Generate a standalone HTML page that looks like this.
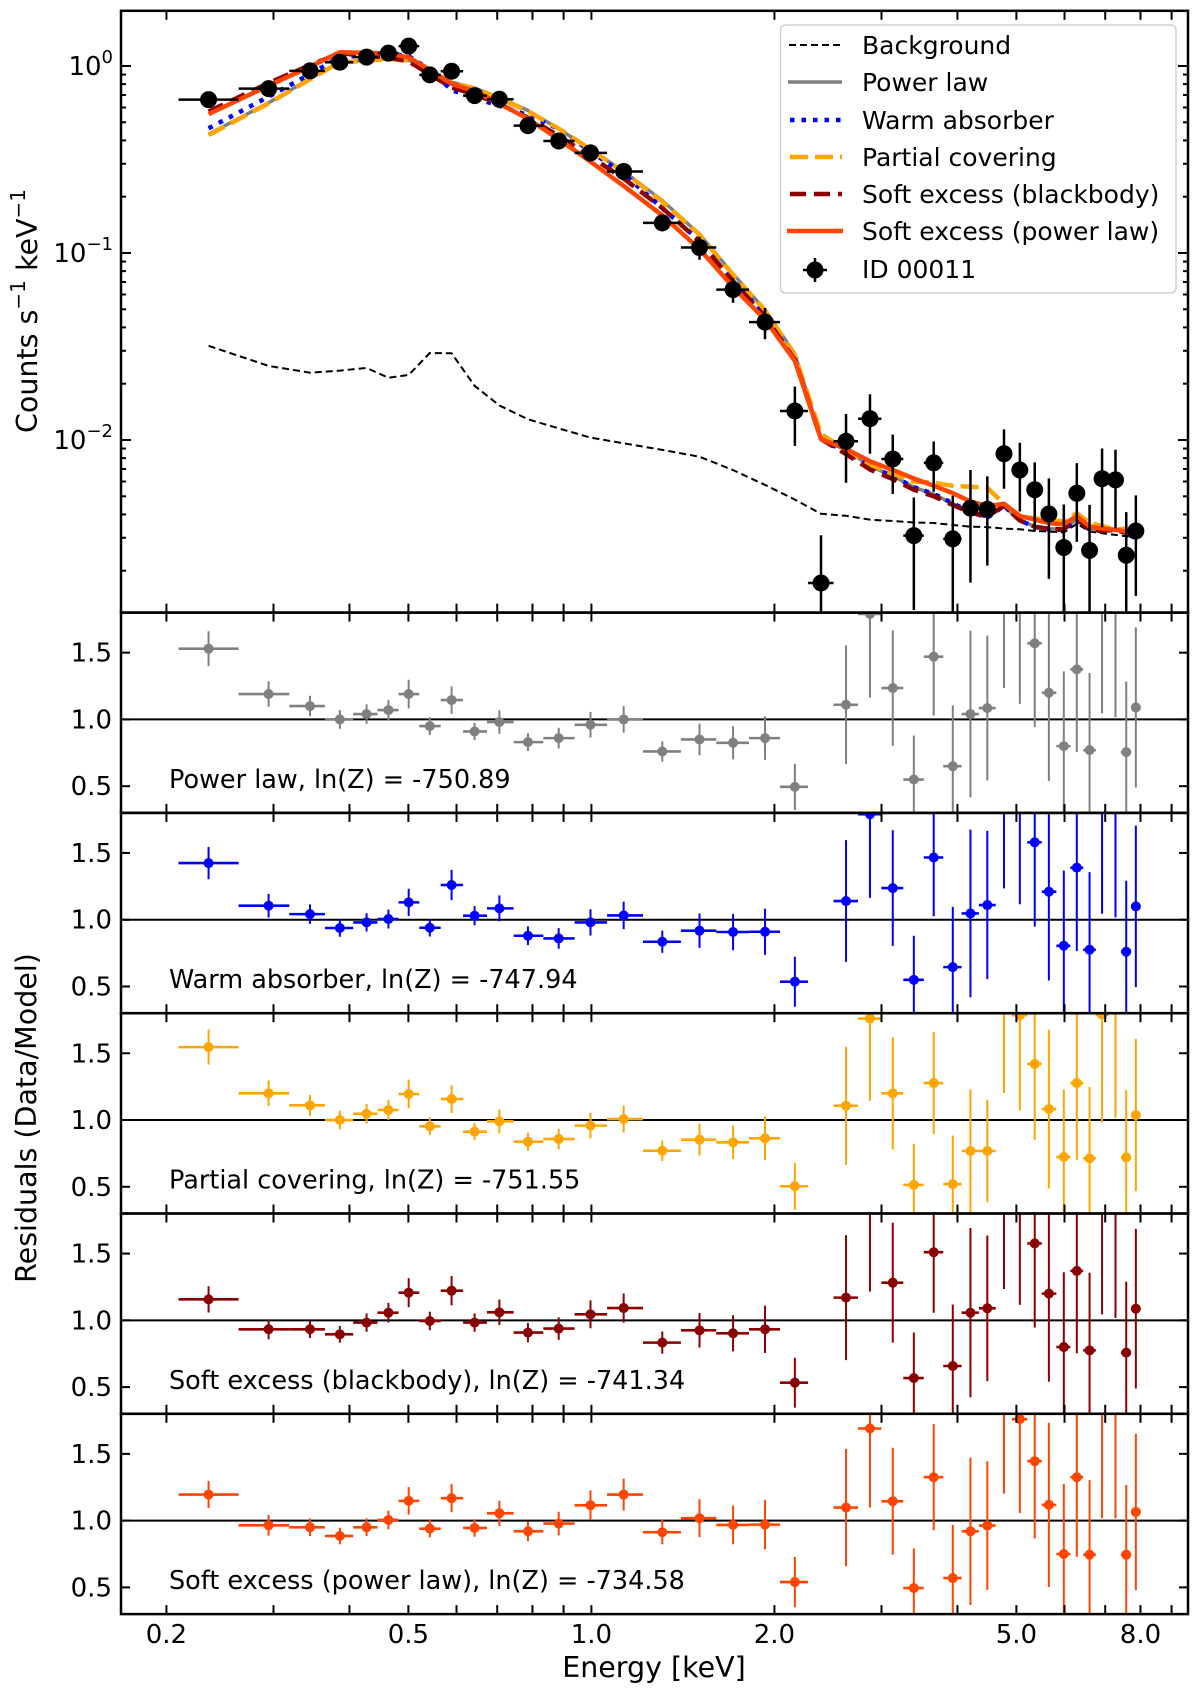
<!DOCTYPE html>
<html><head><meta charset="utf-8"><style>
html,body{margin:0;padding:0;background:#fff;}
svg{display:block;font-family:"DejaVu Sans","Liberation Sans",sans-serif;}
</style></head><body>
<svg id="chart" width="1200" height="1693" viewBox="0 0 1200 1693" xmlns="http://www.w3.org/2000/svg"></svg>
<script>
// ---- data ----
const energies=[0.2346,0.2945,0.3445,0.3857,0.4268,0.4636,0.5006,0.5423,0.5889,0.6425,0.7057,0.7864,0.8835,0.9966,1.130,1.308,1.506,1.710,1.930,2.161,2.386,2.623,2.872,3.131,3.391,3.656,3.930,4.202,4.479,4.771,5.066,5.360,5.655,5.984,6.286,6.597,6.917,7.278,7.580,7.861];
const counts=[0.661,0.757,0.942,1.048,1.116,1.172,1.277,0.897,0.938,0.694,0.664,0.48,0.397,0.343,0.273,0.145,0.107,0.0637,0.0427,0.0143,0.00172,0.00984,0.013,0.00792,0.00308,0.00755,0.00296,0.00432,0.00426,0.00844,0.00691,0.00542,0.00402,0.00266,0.00519,0.00257,0.00621,0.00612,0.00242,0.00326];
const countErrFrac=[0.085,0.08,0.07,0.07,0.07,0.07,0.09,0.07,0.09,0.07,0.09,0.08,0.09,0.1,0.1,0.1,0.14,0.15,0.19,0.35,0.8,0.4,0.35,0.35,0.6,0.3,0.7,0.6,0.5,0.35,0.4,0.4,0.55,0.7,0.45,0.75,0.45,0.45,0.7,0.55];
const background=[0.0319,0.0249,0.0229,0.0235,0.0243,0.0215,0.0223,0.0292,0.0291,0.0195,0.0153,0.0129,0.01153,0.0103,0.0096,0.00885,0.00814,0.0069,0.00575,0.0048,0.00403,0.00393,0.00375,0.00369,0.00362,0.0036,0.00351,0.00344,0.00342,0.00336,0.00333,0.00326,0.00324,0.0032,0.00357,0.00324,0.00317,0.00311,0.00306,0.003];
const residPL=[1.53,1.19,1.10,1.0,1.04,1.07,1.19,0.95,1.145,0.91,0.98,0.83,0.86,0.96,1.0,0.76,0.85,0.825,0.86,0.495,0.17,1.11,1.79,1.235,0.55,1.47,0.65,1.04,1.085,1.9,1.86,1.57,1.2,0.8,1.375,0.77,1.9,1.85,0.755,1.09];
const residWA=[1.424,1.105,1.042,0.938,0.98,1.005,1.13,0.94,1.26,1.03,1.085,0.88,0.86,0.98,1.032,0.835,0.918,0.908,0.91,0.536,0.17,1.14,1.79,1.237,0.55,1.466,0.645,1.047,1.11,1.9,1.86,1.58,1.21,0.805,1.39,0.775,1.9,1.85,0.76,1.10];
const residPC=[1.546,1.2,1.11,1.0,1.047,1.075,1.195,0.953,1.157,0.913,0.99,0.838,0.858,0.958,1.007,0.77,0.853,0.833,0.863,0.504,0.16,1.107,1.76,1.2,0.514,1.277,0.52,0.768,0.768,1.85,1.785,1.42,1.082,0.723,1.277,0.713,1.79,1.85,0.72,1.037];
const residBB=[1.157,0.933,0.933,0.895,0.983,1.057,1.207,0.995,1.222,0.983,1.06,0.908,0.938,1.045,1.092,0.833,0.925,0.903,0.933,0.533,0.17,1.17,1.87,1.282,0.568,1.51,0.658,1.057,1.09,1.9,1.86,1.576,1.2,0.8,1.37,0.775,1.9,1.85,0.758,1.087];
const residSE=[1.195,0.965,0.95,0.885,0.95,1.005,1.148,0.94,1.168,0.945,1.055,0.92,0.978,1.115,1.195,0.913,1.018,0.968,0.97,0.54,0.17,1.098,1.69,1.145,0.495,1.325,0.57,0.92,0.963,1.85,1.76,1.445,1.118,0.75,1.325,0.745,1.85,1.85,0.745,1.065];
const modelNames=["Power law","Warm absorber","Partial covering","Soft excess (blackbody)","Soft excess (power law)"];
const modelLnZ=["-750.89","-747.94","-751.55","-741.34","-734.58"];
const xTickVals=[0.2,0.3,0.4,0.5,0.6,0.7,0.8,0.9,1,2,3,4,5,6,7,8,9];
const xTickLabels={0.2:"0.2",0.5:"0.5",1:"1.0",2:"2.0",5:"5.0",8:"8.0"};
const residTicks=[0.5,1.0,1.5];

// ---- layout ----
const NS="http://www.w3.org/2000/svg";
const svg=document.getElementById('chart');
const L=121,R=1188;
const mainTop=10.8,mainBot=612.6;
const panelH=200.3;
const xmap=e=>591.4+608*Math.log10(e);
const ymap=v=>66-187*Math.log10(v);
const pTop=k=>mainBot+panelH*k;
const yr=(k,v)=>pTop(k)+(1.8-v)*(panelH/1.5);
const styles=[
 {c:"#808080",w:3.5,d:null},
 {c:"#0000ff",w:4.5,d:"4.5,7"},
 {c:"#ffa500",w:4.5,d:"18,7"},
 {c:"#8b0000",w:4.5,d:"16,8"},
 {c:"#ff4500",w:4.5,d:null}];
const resids=[residPL,residWA,residPC,residBB,residSE];
function el(tag,attrs,parent){const e=document.createElementNS(NS,tag);for(const k in attrs)e.setAttribute(k,attrs[k]);(parent||svg).appendChild(e);return e;}

const defs=el('defs',{});
function clip(id,y0,y1){const c=el('clipPath',{id:id},defs);el('rect',{x:L,y:y0,width:R-L,height:y1-y0},c);}
clip('cmain',mainTop,mainBot);
for(let k=0;k<5;k++)clip('cr'+k,pTop(k),pTop(k)+panelH);

const edges=[];
for(let i=0;i<energies.length-1;i++)edges.push(Math.sqrt(energies[i]*energies[i+1]));
const lo=i=>i===0?energies[0]*energies[0]/edges[0]:edges[i-1];
const hi=i=>i===energies.length-1?energies[i]*energies[i]/edges[i-1]:edges[i];

// ---- main panel ----
const gMain=el('g',{'clip-path':'url(#cmain)'});


function poly(vals,g,st,name){
  const pts=energies.map((e,i)=>xmap(e).toFixed(1)+','+ymap(vals[i]).toFixed(1)).join(' ');
  const p=el('polyline',{points:pts,fill:'none',stroke:st.c,'stroke-width':st.w,'stroke-linejoin':'round'},g);
  if(st.d)p.setAttribute('stroke-dasharray',st.d);
  
  
}
poly(background,gMain,{c:'#000',w:2,d:'7,4'},'background-line');
const lineNames=['power-law-model-line','warm-absorber-model-line','partial-covering-model-line','blackbody-model-line','soft-powerlaw-model-line'];
for(let m=0;m<5;m++){
  const model=counts.map((v,i)=>v/resids[m][i]);
  poly(model,gMain,styles[m],lineNames[m]);
}
for(let i=0;i<energies.length;i++){
  const x=xmap(energies[i]),y=ymap(counts[i]);
  const up=ymap(counts[i]*(1+countErrFrac[i]));
  const dn=countErrFrac[i]>=0.99?mainBot+5:ymap(counts[i]*(1-countErrFrac[i]));
  const g=el('g',{},gMain);
  
  
  el('line',{x1:x,y1:up,x2:x,y2:dn,stroke:'#000','stroke-width':2.5},g);
  el('line',{x1:xmap(lo(i)),y1:y,x2:xmap(hi(i)),y2:y,stroke:'#000','stroke-width':2.5},g);
  el('circle',{cx:x,cy:y,r:8.5,fill:'#000'},g);
}

// ---- residual panels ----
for(let k=0;k<5;k++){
  const g=el('g',{'clip-path':'url(#cr'+k+')'});
  
  
  el('line',{x1:L,y1:yr(k,1),x2:R,y2:yr(k,1),stroke:'#000','stroke-width':2},g);
  const c=styles[k].c;
  for(let i=0;i<energies.length;i++){
    const r=resids[k][i],x=xmap(energies[i]),y=yr(k,r);
    const f=countErrFrac[i];
    const pg=el('g',{},g);
    
    
    el('line',{x1:x,y1:yr(k,r*(1+f)),x2:x,y2:yr(k,Math.max(r*(1-f),0)),stroke:c,'stroke-width':2},pg);
    el('line',{x1:xmap(lo(i)),y1:y,x2:xmap(hi(i)),y2:y,stroke:c,'stroke-width':2.6},pg);
    el('circle',{cx:x,cy:y,r:5,fill:c},pg);
  }
  const t=el('text',{x:169,y:pTop(k)+panelH-25,'font-size':25.5,fill:'#000'});
  t.textContent=modelNames[k]+', ln(Z) = '+modelLnZ[k];
  
  
}

// ---- axes / ticks ----
const axes=el('g',{});


function tick(x1,y1,x2,y2){el('line',{x1,y1,x2,y2,stroke:'#000','stroke-width':2},axes);}
const bounds=[[mainTop,mainBot]];
for(let k=0;k<5;k++)bounds.push([pTop(k),pTop(k)+panelH]);
bounds.forEach(([t,b])=>{
  xTickVals.forEach(v=>{const x=xmap(v);tick(x,t,x,t+9);tick(x,b,x,b-9);});
});
for(let d=-3;d<=0;d++){
  for(let m=1;m<=9;m++){
    const v=m*Math.pow(10,d),y=ymap(v);
    if(y<mainTop||y>mainBot)continue;
    const len=m===1?10:5;
    tick(L,y,L+len,y);tick(R,y,R-len,y);
    if(m===1){
      const t=el('text',{x:113,y:y+9,'font-size':26,'text-anchor':'end'},axes);
      
      
      t.appendChild(document.createTextNode('10'));
      const s=el('tspan',{'font-size':18,dy:-12},t);
      s.textContent=d===0?'0':'\u2212'+(-d);
    }
  }
}
for(let k=0;k<5;k++){
  residTicks.forEach(v=>{
    const y=yr(k,v);tick(L,y,L+9,y);tick(R,y,R-9,y);
    const t=el('text',{x:112,y:y+9,'font-size':26,'text-anchor':'end'},axes);
    t.textContent=v.toFixed(1);
    
    
  });
}
bounds.forEach(([t,b])=>{el('rect',{x:L,y:t,width:R-L,height:b-t,fill:'none',stroke:'#000','stroke-width':2.5},axes);});
xTickVals.forEach(v=>{
  if(!(v in xTickLabels))return;
  const t=el('text',{x:xmap(v),y:1643,'font-size':26,'text-anchor':'middle'},axes);
  t.textContent=xTickLabels[v];
  
  
});
</script>
<svg style="position:absolute;left:0;top:0" width="1200" height="1693">
 <g font-family="DejaVu Sans, Liberation Sans, sans-serif">
  <text x="654" y="1677" font-size="28.5" text-anchor="middle">Energy [keV]</text>
  <text transform="translate(37,311) rotate(-90)" font-size="28.5" text-anchor="middle">Counts s<tspan font-size="20" dy="-12">−1</tspan><tspan dy="12"> keV</tspan><tspan font-size="20" dy="-12">−1</tspan></text>
  <text transform="translate(36,1118) rotate(-90)" font-size="28.5" text-anchor="middle">Residuals (Data/Model)</text>
  <g>
   <rect x="780.5" y="25" width="395.5" height="268" rx="5" fill="#fff" fill-opacity="0.85" stroke="#d0d0d0" stroke-width="1.5"/>
   <line x1="789" y1="45" x2="841" y2="45" stroke="#000" stroke-width="2" stroke-dasharray="7,4"/>
   <line x1="788" y1="82" x2="842" y2="82" stroke="#808080" stroke-width="3.5"/>
   <line x1="790" y1="120" x2="842" y2="120" stroke="#0000ff" stroke-width="4.5" stroke-dasharray="4.5,7"/>
   <line x1="790" y1="157" x2="842" y2="157" stroke="#ffa500" stroke-width="4.5" stroke-dasharray="18,7"/>
   <line x1="790" y1="194" x2="842" y2="194" stroke="#8b0000" stroke-width="4.5" stroke-dasharray="16,8"/>
   <line x1="787" y1="231" x2="843" y2="231" stroke="#ff4500" stroke-width="4.5"/>
   <line x1="803" y1="270" x2="827" y2="270" stroke="#000" stroke-width="2.5"/>
   <circle cx="815" cy="270" r="8.5" fill="#000"/>
   <line x1="815" y1="258" x2="815" y2="282" stroke="#000" stroke-width="2.5"/>
   <g font-size="25">
    <text x="862" y="54">Background</text>
    <text x="862" y="91">Power law</text>
    <text x="862" y="129">Warm absorber</text>
    <text x="862" y="166">Partial covering</text>
    <text x="862" y="203">Soft excess (blackbody)</text>
    <text x="862" y="240">Soft excess (power law)</text>
    <text x="862" y="278">ID 00011</text>
   </g>
  </g>
 </g>
</svg>
</body></html>
